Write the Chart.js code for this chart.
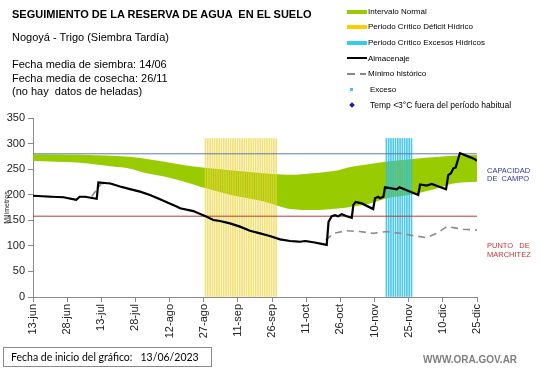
<!DOCTYPE html>
<html>
<head>
<meta charset="utf-8">
<script src="https://cdn.jsdelivr.net/npm/chart.js@4"></script>
<style>
  body { margin: 0; background: #fff; }
  #wrap { position: relative; width: 541px; height: 368px; overflow: hidden; font-family: "Liberation Sans", Arial, sans-serif; }
  #chartBox { position: absolute; left: 0; top: 0; width: 541px; height: 368px; }
  .t { position: absolute; white-space: pre; line-height: 1; color: #000; }
  .sw { position: absolute; }
</style>
</head>
<body>
<div id="wrap">
  <div id="chartBox"><canvas id="reserva"></canvas></div>

  <div class="t" style="left:12px;top:9px;font-size:11px;font-weight:bold;">SEGUIMIENTO DE LA RESERVA DE AGUA  EN EL SUELO</div>
  <div class="t" style="left:12px;top:32px;font-size:11px;">Nogoyá - Trigo (Siembra Tardía)</div>
  <div class="t" style="left:12px;top:59px;font-size:11px;">Fecha media de siembra: 14/06</div>
  <div class="t" style="left:12px;top:72.5px;font-size:11px;">Fecha media de cosecha: 26/11</div>
  <div class="t" style="left:12px;top:86px;font-size:11px;">(no hay  datos de heladas)</div>

  <!-- leyenda -->
  <div class="sw" style="left:347px;top:10px;width:20px;height:4px;background:#99cc00;"></div>
  <div class="t" style="left:368px;top:8px;font-size:8px;">Intervalo Normal</div>
  <div class="sw" style="left:347px;top:25px;width:20px;height:4px;background:#ffcc00;"></div>
  <div class="t" style="left:368px;top:23px;font-size:8px;">Periodo Crítico Déficit Hídrico</div>
  <div class="sw" style="left:347px;top:41px;width:20px;height:4px;background:#33ccee;"></div>
  <div class="t" style="left:368px;top:39px;font-size:8px;">Periodo Crítico Excesos Hídricos</div>
  <div class="sw" style="left:347px;top:57px;width:20px;height:2px;background:#000;"></div>
  <div class="t" style="left:368px;top:54.5px;font-size:8px;">Almacenaje</div>
  <div class="sw" style="left:347px;top:73px;width:8px;height:1.5px;background:#888;"></div>
  <div class="sw" style="left:360px;top:73px;width:6px;height:1.5px;background:#888;"></div>
  <div class="t" style="left:368px;top:70px;font-size:8px;">Mínimo histórico</div>
  <div class="sw" style="left:350px;top:87.5px;width:3px;height:3px;background:#33ccee;"></div>
  <div class="t" style="left:370px;top:85.5px;font-size:8px;">Exceso</div>
  <div class="sw" style="left:349.5px;top:102.5px;width:4px;height:4px;background:#1a1aa0;transform:rotate(45deg);"></div>
  <div class="t" style="left:370px;top:101px;font-size:8.5px;">Temp &lt;3°C fuera del período habitual</div>

  <!-- etiquetas de referencia -->
  <div class="t" style="left:487px;top:166.5px;font-size:7.5px;color:#3535a8;">CAPACIDAD</div>
  <div class="t" style="left:487px;top:175px;font-size:7.5px;color:#3535a8;">DE  CAMPO</div>
  <div class="t" style="left:487px;top:242px;font-size:7.5px;color:#c03535;">PUNTO   DE</div>
  <div class="t" style="left:487px;top:250.5px;font-size:7.5px;color:#c03535;">MARCHITEZ</div>

  <div style="position:absolute;left:3px;top:347px;width:207px;height:18px;border:1px solid #8a8a8a;"></div>
  <div class="t" style="left:11px;top:352px;font-size:10.5px;font-family:Lato,'Liberation Sans',sans-serif;">Fecha de inicio del gráfico:   13/06/2023</div>
  <div class="t" style="left:423px;top:354.5px;font-size:10px;font-weight:bold;color:#7f7f7f;">WWW.ORA.GOV.AR</div>
</div>

<script>
// dias contados desde el 13/06/2023
var xTickLabels = ['13-jun', '28-jun', '13-jul', '28-jul', '12-ago', '27-ago', '11-sep',
                   '26-sep', '11-oct', '26-oct', '10-nov', '25-nov', '10-dic', '25-dic'];

var bandDays = [0, 20.6, 35, 42.6, 50, 57, 64.6, 76.4, 86.5, 101, 107, 113, 123, 134, 140.5, 148, 155.5, 167, 177.4, 184.5, 195];
var bandLow  = [266, 262.6, 255, 251, 242, 236, 228, 212, 200, 187, 179, 172, 170, 173, 177, 183, 193, 201, 212, 222, 225.5];
var bandHigh = [279, 278, 276, 274, 270, 265, 259, 252, 248, 242, 240, 239, 242, 248, 255, 260, 265, 270, 273.5, 276, 277.6];

var almDays = [0, 8, 13.4, 19, 20.5, 22.8, 28, 28.7, 34, 38.2, 42.6, 47, 51.4, 55.8, 60, 63.1, 64.6,
               70.4, 76.3, 79.2, 82.1, 86.5, 90.9, 95.3, 99.7, 104, 108.5, 112.9, 117.3, 119.5, 123.1,
               129, 129.8, 131.2, 132.7, 134, 135.6, 137.8, 140, 140.7, 141.7, 144.4, 149.4, 150.2,
               151.6, 152.4, 153.9, 154.6, 157.5, 159.7, 160.9, 169.2, 170, 173, 175.1, 181.4, 182.4,
               183.6, 184.6, 185.6, 187.5, 190.5, 193.4, 195];
var almValues = [198, 196, 195, 190, 196, 196, 192, 224, 222, 216, 211, 206, 199.5, 191, 183, 177, 173.5,
                 168, 157, 150.6, 148.6, 144, 137.6, 129.6, 124.5, 119.3, 112.8, 109.5, 108, 109.5, 107,
                 102, 147, 158, 160, 158, 162, 158, 155, 180, 186, 183, 172, 193,
                 196, 193, 196, 214.5, 212.5, 210.5, 214.5, 199.5, 220, 218, 221, 210.5, 238.6,
                 242, 251.6, 253, 281, 276, 271, 266.5];

var minDays = [0, 8, 13.4, 19, 20.5, 22.8, 26, 30, 34, 38.2, 42.6, 47, 51.4, 55.8, 60, 63.1, 64.6,
               70.4, 76.3, 79.2, 82.1, 86.5, 90.9, 95.3, 99.7, 104, 108.5, 112.9, 117.3, 119.5, 123.1,
               127, 129.5, 132, 137.6, 143.5, 149.4, 155.3, 161.2, 167, 172.9, 177.3, 181.7, 184.6, 189, 195];
var minValues = [198, 196, 195, 190, 196, 196, 198, 222, 222, 216, 211, 206, 199.5, 191, 183, 177, 173.5,
                 168, 157, 150.6, 148.6, 144, 137.6, 129.6, 124.5, 119.3, 112.8, 109.5, 108, 109.5, 107,
                 104, 115, 124.5, 129.6, 128, 124.5, 128, 124.5, 120, 116, 124.5, 137.6, 135.6, 132.5, 131];

// periodos criticos, un trazo por dia
var deficitDays = [76, 77, 78, 79, 80, 81, 82, 83, 84, 85, 86, 87, 88, 89, 90, 91,
                   92, 93, 94, 95, 96, 97, 98, 99, 100, 101, 102, 103, 104, 105, 106, 107];
var excesoDays = [155, 156, 157, 158, 159, 160, 161, 162, 163, 164, 165, 166];
var periodTop = 310;

var capacidadCampo = 280;
var puntoMarchitez = 158;

function pts(xs, ys) {
    return xs.map(function (x, i) { return { x: x, y: ys[i] }; });
}
function flat(xs, v) {
    return xs.map(function (x) { return { x: x, y: v }; });
}

var ctx = document.getElementById('reserva').getContext('2d');
var chart = new Chart(ctx, {
    type: 'line',
    data: {
        datasets: [
            {
                label: 'Almacenaje',
                data: pts(almDays, almValues),
                borderColor: '#000',
                borderWidth: 2.2,
                pointRadius: 0,
                order: 1
            },
            {
                label: 'Mínimo histórico',
                data: pts(minDays, minValues),
                borderColor: '#8c8c8c',
                borderWidth: 1.6,
                borderDash: [7, 5],
                pointRadius: 0,
                order: 2
            },
            {
                label: 'Capacidad de campo',
                data: flat([0, 195], capacidadCampo),
                borderColor: '#5b78bd',
                borderWidth: 1,
                pointRadius: 0,
                order: 3
            },
            {
                label: 'Punto de marchitez',
                data: flat([0, 195], puntoMarchitez),
                borderColor: '#b83a3a',
                borderWidth: 1,
                pointRadius: 0,
                order: 3
            },
            {
                type: 'bar',
                label: 'Periodo Crítico Déficit Hídrico',
                data: flat(deficitDays, periodTop),
                backgroundColor: 'rgba(236, 212, 60, 0.7)',
                barThickness: 1,
                order: 5
            },
            {
                type: 'bar',
                label: 'Periodo Crítico Excesos Hídricos',
                data: flat(excesoDays, periodTop),
                backgroundColor: 'rgba(45, 190, 228, 0.85)',
                barThickness: 1,
                order: 5
            },
            {
                label: 'Intervalo normal (min)',
                data: pts(bandDays, bandLow),
                borderWidth: 0,
                borderColor: 'rgba(0,0,0,0)',
                pointRadius: 0,
                cubicInterpolationMode: 'monotone',
                order: 10
            },
            {
                label: 'Intervalo Normal',
                data: pts(bandDays, bandHigh),
                borderWidth: 0,
                borderColor: 'rgba(0,0,0,0)',
                backgroundColor: '#99cc00',
                fill: '-1',
                pointRadius: 0,
                cubicInterpolationMode: 'monotone',
                order: 10
            }
        ]
    },
    options: {
        responsive: true,
        maintainAspectRatio: false,
        animation: false,
        layout: { padding: { left: 0, top: 118, right: 64, bottom: 0 } },
        plugins: {
            legend: { display: false },
            tooltip: { enabled: false }
        },
        scales: {
            x: {
                type: 'linear',
                min: 0,
                max: 195,
                offset: false,
                afterFit: function (scale) { scale.height = 71; },
                grid: { offset: false, drawOnChartArea: false, drawTicks: true, tickLength: 5, color: '#8a8a8a' },
                border: { color: '#8a8a8a' },
                ticks: {
                    stepSize: 15,
                    autoSkip: false,
                    minRotation: 90,
                    maxRotation: 90,
                    padding: 2,
                    color: '#222',
                    font: { family: 'Liberation Sans', size: 11 },
                    callback: function (v) { return xTickLabels[v / 15]; }
                }
            },
            y: {
                min: 0,
                max: 350,
                afterFit: function (scale) { scale.width = 33; },
                grid: { drawOnChartArea: false, drawTicks: true, tickLength: 5, color: '#8a8a8a' },
                border: { color: '#8a8a8a' },
                title: {
                    display: true,
                    text: 'Milímetros',
                    color: '#222',
                    padding: { top: 3, bottom: 0 },
                    font: { family: 'Liberation Sans', size: 7 }
                },
                ticks: {
                    stepSize: 50,
                    padding: 3,
                    color: '#222',
                    font: { family: 'Liberation Sans', size: 11 }
                }
            }
        }
    }
});
</script>
</body>
</html>
